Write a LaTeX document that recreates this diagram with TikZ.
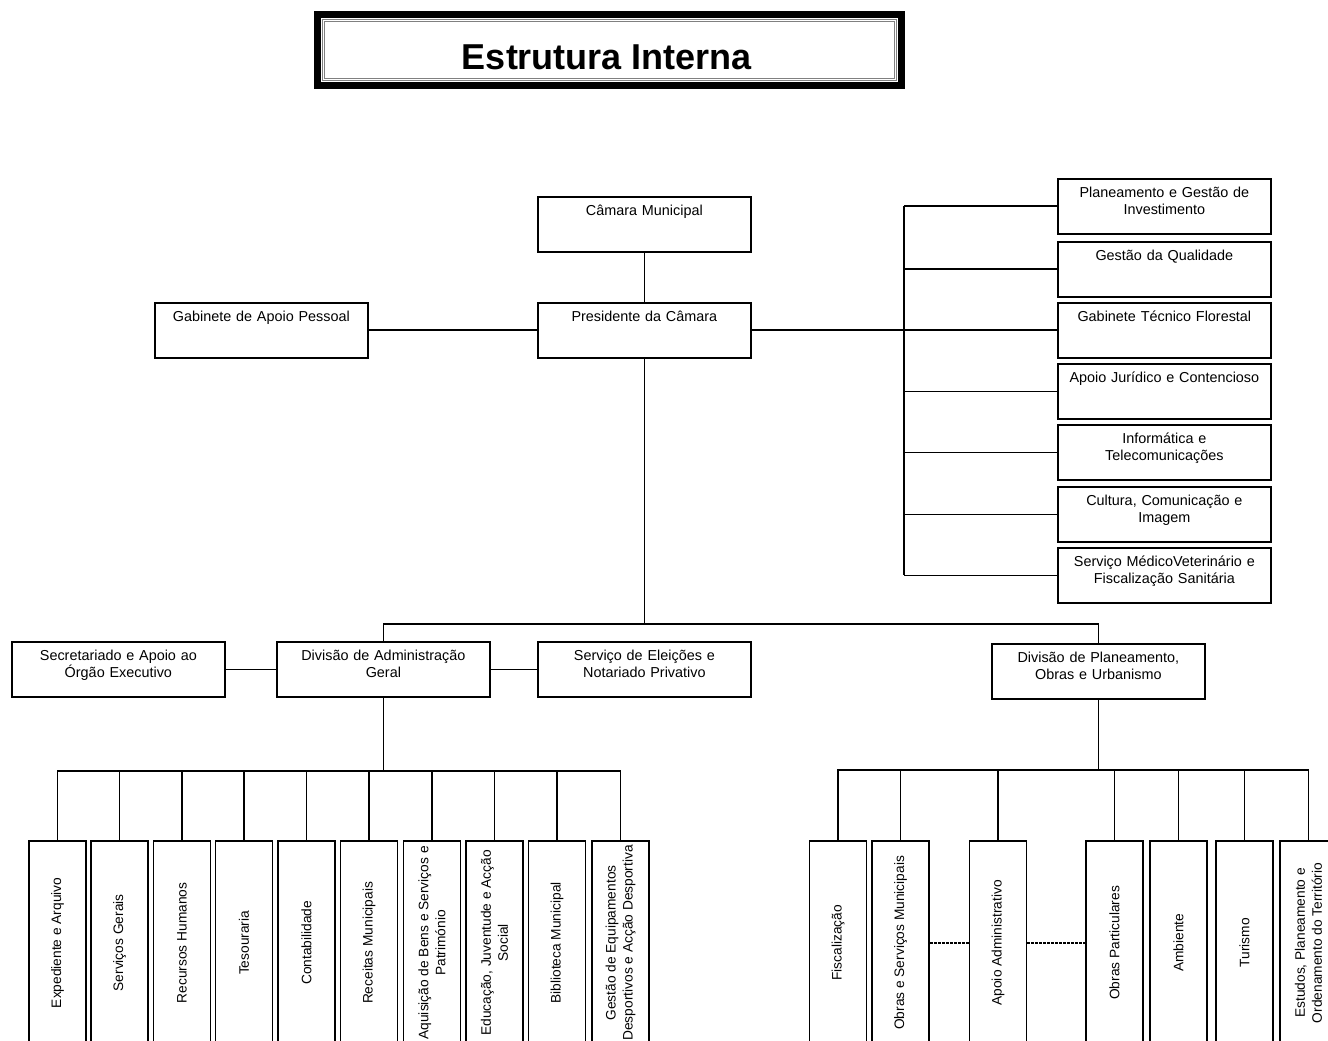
\documentclass[tikz,border=0pt]{standalone}
\usepackage{fontspec}
\setmainfont{Liberation Sans}

\tikzset{every picture/.style={line width=1.3pt}}
\tikzset{
  unitbox/.style={draw, anchor=north west, align=center, text width=156pt, inner xsep=1.5pt, inner ysep=0pt,
    minimum width=159.75pt, text height=14pt, text depth=27.25pt, font=\fontsize{10.8}{12.75}\selectfont},
  vertbox/.style={draw, rotate=90, anchor=east, align=center, inner sep=0pt,
    minimum width=153pt, minimum height=42.75pt, font=\fontsize{10.3}{12.75}\selectfont},
  dotlink/.style={line width=1.5pt, dash pattern=on 2pt off 1pt},
}

\begin{document}
\begin{tikzpicture}[x=0.75pt,y=0.75pt,yscale=-1,xscale=1]
	\useasboundingbox (0,0) rectangle (1328,1041);
	\clip (0,0) rectangle (1328,1041);

	%Title frame
	\fill (314,11) rectangle (905,89);
	\fill [white] (321,18) rectangle (898,82);
	\draw [draw=gray, double=white, double distance=1pt, line width=0.7pt] (323.5,20.5) rectangle (895.5,79.5);
	% Text Node
	\node [font=\fontsize{27}{32}\selectfont\bfseries] (title) at (607,57) {Estrutura Interna};

	%Top level
	\node [unitbox] (cam) at (537,196) {Câmara Municipal};
	\node [unitbox] (pres) at (537,302) {Presidente da Câmara};
	\node [unitbox] (gap) at (154,302) {Gabinete de Apoio Pessoal};

	%Right column
	\node [unitbox] (pgi) at (1057,178) {Planeamento e Gestão de\\Investimento};
	\node [unitbox] (gdq) at (1057,241) {Gestão da Qualidade};
	\node [unitbox] (gtf) at (1057,302) {Gabinete Técnico Florestal};
	\node [unitbox] (ajc) at (1057,363) {Apoio Jurídico e Contencioso};
	\node [unitbox] (itc) at (1057,424) {Informática e\\Telecomunicações};
	\node [unitbox] (cci) at (1057,486) {Cultura, Comunicação e\\Imagem};
	\node [unitbox] (smv) at (1057,547) {Serviço MédicoVeterinário e\\Fiscalização Sanitária};

	%Divisions
	\node [unitbox] (sao) at (11,641) {Secretariado e Apoio ao\\Órgão Executivo};
	\node [unitbox] (dag) at (276,641) {Divisão de Administração\\Geral};
	\node [unitbox] (sen) at (537,641) {Serviço de Eleições e\\Notariado Privativo};
	\node [unitbox] (dpou) at (991,643) {Divisão de Planeamento,\\Obras e Urbanismo};

	%Units of the Divisão de Administração Geral
	\node [vertbox] (exa) at (57.5,840) {Expediente e Arquivo};
	\node [vertbox] (sge) at (119.5,840) {Serviços Gerais};
	\node [vertbox] (rhu) at (182,840) {Recursos Humanos};
	\node [vertbox] (tes) at (244,840) {Tesouraria};
	\node [vertbox] (con) at (306.5,840) {Contabilidade};
	\node [vertbox] (rmu) at (369,840) {Receitas Municipais};
	\node [vertbox] (abs) at (432,840) {Aquisição de Bens e Serviços e\\Património};
	\node [vertbox] (eja) at (494.5,840) {Educação, Juventude e Acção\\Social};
	\node [vertbox] (bmu) at (557,840) {Biblioteca Municipal};
	\node [vertbox] (ged) at (620.5,840) {Gestão de Equipamentos\\Desportivos e Acção Desportiva};

	%Units of the Divisão de Planeamento
	\node [vertbox] (fis) at (838,840) {Fiscalização};
	\node [vertbox] (osm) at (900.5,840) {Obras e Serviços Municipais};
	\node [vertbox] (aad) at (998,840) {Apoio Administrativo};
	\node [vertbox] (opa) at (1114.5,840) {Obras Particulares};
	\node [vertbox] (amb) at (1178.5,840) {Ambiente};
	\node [vertbox] (tur) at (1244.5,840) {Turismo};
	\node [vertbox] (epo) at (1308.5,840) {Estudos, Planeamento e\\Ordenamento do Território};

	%Straight Lines
	\draw (cam) -- (pres);
	\draw (gap) -- (pres);
	\draw (pres.east) -- ++(152.5,0) coordinate (busR);
	\draw (pgi.west -| busR) -- (smv.west -| busR);
	\draw (pgi.west) -- (pgi.west -| busR);
	\draw (gdq.west) -- (gdq.west -| busR);
	\draw (gtf.west) -- (gtf.west -| busR);
	\draw (ajc.west) -- (ajc.west -| busR);
	\draw (itc.west) -- (itc.west -| busR);
	\draw (cci.west) -- (cci.west -| busR);
	\draw (smv.west) -- (smv.west -| busR);

	\draw (pres.south) -- ++(0,265) coordinate (busM);
	\draw (dag.north) |- (busM) -| (dpou.north);
	\draw (sao) -- (dag);
	\draw (dag) -- (sen);

	\draw (dag.south) -- ++(0,73) coordinate (busA);
	\draw (exa.east) |- (busA) -| (ged.east);
	\draw (sge.east) -- (sge.east |- busA);
	\draw (rhu.east) -- (rhu.east |- busA);
	\draw (tes.east) -- (tes.east |- busA);
	\draw (con.east) -- (con.east |- busA);
	\draw (rmu.east) -- (rmu.east |- busA);
	\draw (abs.east) -- (abs.east |- busA);
	\draw (eja.east) -- (eja.east |- busA);
	\draw (bmu.east) -- (bmu.east |- busA);

	\draw (dpou.south) -- ++(0,70) coordinate (busB);
	\draw (fis.east) |- (busB) -| (epo.east);
	\draw (osm.east) -- (osm.east |- busB);
	\draw (aad.east) -- (aad.east |- busB);
	\draw (opa.east) -- (opa.east |- busB);
	\draw (amb.east) -- (amb.east |- busB);
	\draw (tur.east) -- (tur.east |- busB);

	%Dotted Lines
	\draw [dotlink] (osm.south) -- (aad.north);
	\draw [dotlink] (aad.south) -- (opa.north);

\end{tikzpicture}
\end{document}
